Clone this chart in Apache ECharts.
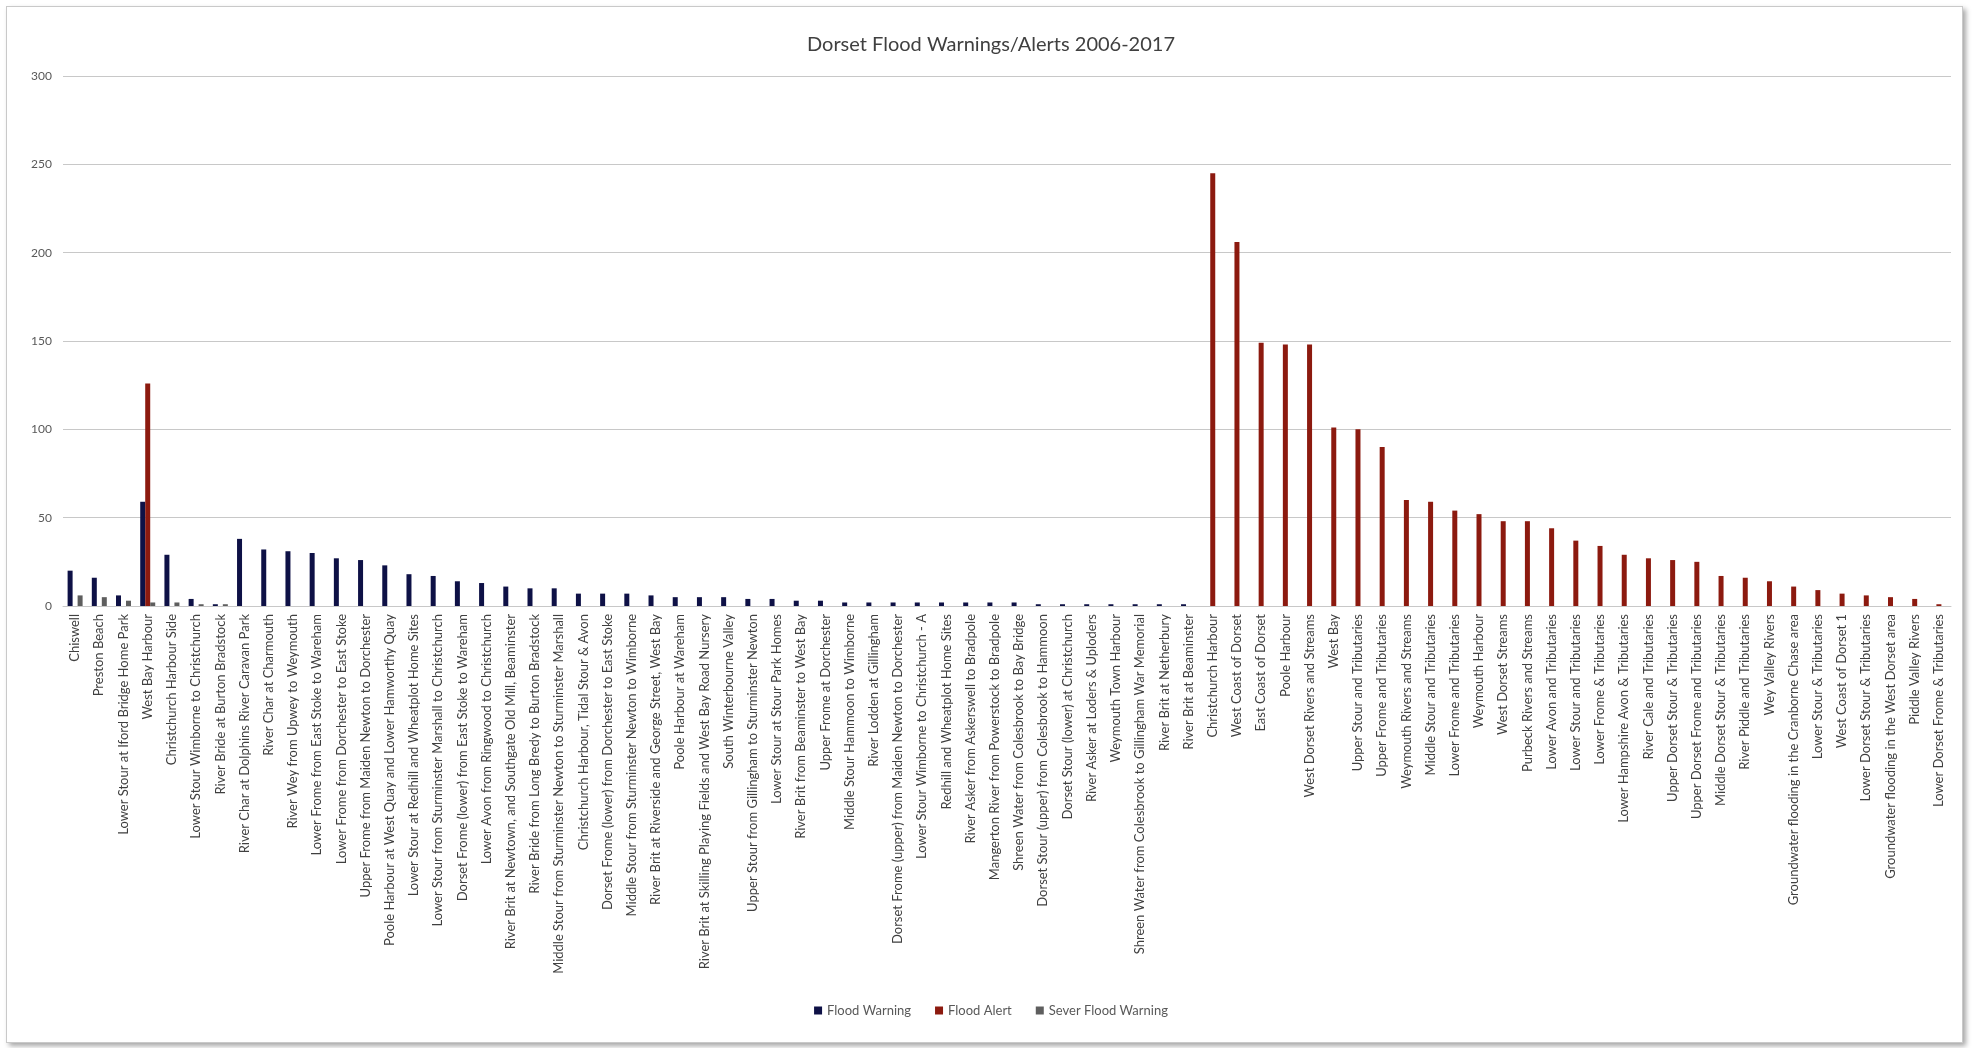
<!DOCTYPE html>
<html>
<head>
<meta charset="utf-8">
<title>Dorset Flood Warnings/Alerts 2006-2017</title>
<script src="https://cdn.jsdelivr.net/npm/echarts@6/dist/echarts.min.js"></script>
<style>
  html, body { margin: 0; padding: 0; background: #ffffff; }
  #frame {
    position: absolute; left: 6px; top: 6px; width: 1955px; height: 1035px;
    border: 1px solid #c9c9c9; background: #ffffff;
    box-shadow: 3px 3px 5px rgba(0,0,0,0.35);
  }
  #chart { position: absolute; left: 0; top: 0; width: 1982px; height: 1048px; }
</style>
</head>
<body>
<div id="frame"></div>
<div id="chart"></div>
<script>
// Warning / alert areas, in the order they appear along the axis
const categories = [
  'Chiswell', 'Preston Beach', 'Lower Stour at Iford Bridge Home Park', 'West Bay Harbour',
  'Christchurch Harbour Side', 'Lower Stour Wimborne to Christchurch', 'River Bride at Burton Bradstock',
  'River Char at Dolphins River Caravan Park', 'River Char at Charmouth', 'River Wey from Upwey to Weymouth',
  'Lower Frome from East Stoke to Wareham', 'Lower Frome from Dorchester to East Stoke',
  'Upper Frome from Maiden Newton to Dorchester', 'Poole Harbour at West Quay and Lower Hamworthy Quay',
  'Lower Stour at Redhill and Wheatplot Home Sites', 'Lower Stour from Sturminster Marshall to Christchurch',
  'Dorset Frome (lower) from East Stoke to Wareham', 'Lower Avon from Ringwood to Christchurch',
  'River Brit at Newtown, and Southgate Old Mill, Beaminster', 'River Bride from Long Bredy to Burton Bradstock',
  'Middle Stour from Sturminster Newton to Sturminster Marshall', 'Christchurch Harbour, Tidal Stour & Avon',
  'Dorset Frome (lower) from Dorchester to East Stoke', 'Middle Stour from Sturminster Newton to Wimborne',
  'River Brit at Riverside and George Street, West Bay', 'Poole Harbour at Wareham',
  'River Brit at Skilling Playing Fields and West Bay Road Nursery', 'South Winterbourne Valley',
  'Upper Stour from Gillingham to Sturminster Newton', 'Lower Stour at Stour Park Homes',
  'River Brit from Beaminster to West Bay', 'Upper Frome at Dorchester', 'Middle Stour Hammoon to Wimborne',
  'River Lodden at Gillingham', 'Dorset Frome (upper) from Maiden Newton to Dorchester',
  'Lower Stour Wimborne to Christchurch - A', 'Redhill and Wheatplot Home Sites',
  'River Asker from Askerswell to Bradpole', 'Mangerton River from Powerstock to Bradpole',
  'Shreen Water from Colesbrook to Bay Bridge', 'Dorset Stour (upper) from Colesbrook to Hammoon',
  'Dorset Stour (lower) at Christchurch', 'River Asker at Loders & Uploders', 'Weymouth Town Harbour',
  'Shreen Water from Colesbrook to Gillingham War Memorial', 'River Brit at Netherbury',
  'River Brit at Beaminster', 'Christchurch Harbour', 'West Coast of Dorset', 'East Coast of Dorset',
  'Poole Harbour', 'West Dorset Rivers and Streams', 'West Bay', 'Upper Stour and Tributaries',
  'Upper Frome and Tributaries', 'Weymouth Rivers and Streams', 'Middle Stour and Tributaries',
  'Lower Frome and Tributaries', 'Weymouth Harbour', 'West Dorset Streams', 'Purbeck Rivers and Streams',
  'Lower Avon and Tributaries', 'Lower Stour and Tributaries', 'Lower Frome & Tributaries',
  'Lower Hampshire Avon & Tributaries', 'River Cale and Tributaries', 'Upper Dorset Stour & Tributaries',
  'Upper Dorset Frome and Tributaries', 'Middle Dorset Stour & Tributaries', 'River Piddle and Tributaries',
  'Wey Valley Rivers', 'Groundwater flooding in the Cranborne Chase area', 'Lower Stour & Tributaries',
  'West Coast of Dorset 1', 'Lower Dorset Stour & Tributaries', 'Groundwater flooding in the West Dorset area',
  'Piddle Valley Rivers', 'Lower Dorset Frome & Tributaries'
];

// Counts per area (null = no record of that type)
const floodWarning = [
  20, 16, 6, 59, 29, 4, 1, 38, 32, 31, 30, 27, 26, 23, 18, 17, 14, 13, 11, 10,
  10, 7, 7, 7, 6, 5, 5, 5, 4, 4, 3, 3, 2, 2, 2, 2, 2, 2, 2, 2,
  1, 1, 1, 1, 1, 1, 1, null, null, null, null, null, null, null, null, null, null, null, null, null,
  null, null, null, null, null, null, null, null, null, null, null, null, null, null, null, null, null, null
];

const floodAlert = [
  null, null, null, 126, null, null, null, null, null, null, null, null, null, null, null, null, null, null, null, null,
  null, null, null, null, null, null, null, null, null, null, null, null, null, null, null, null, null, null, null, null,
  null, null, null, null, null, null, null, 245, 206, 149, 148, 148, 101, 100, 90, 60, 59, 54, 52, 48,
  48, 44, 37, 34, 29, 27, 26, 25, 17, 16, 14, 11, 9, 7, 6, 5, 4, 1
];

const severeFloodWarning = [
  6, 5, 3, 2, 2, 1, 1, null, null, null, null, null, null, null, null, null, null, null, null, null,
  null, null, null, null, null, null, null, null, null, null, null, null, null, null, null, null, null, null, null, null,
  null, null, null, null, null, null, null, null, null, null, null, null, null, null, null, null, null, null, null, null,
  null, null, null, null, null, null, null, null, null, null, null, null, null, null, null, null, null, null
];

const yTicks = { min: 0, max: 300, interval: 50 };

const FONT = 'Lato, "Open Sans", sans-serif';
const chart = echarts.init(document.getElementById('chart'), null, { renderer: 'canvas' });

function barSeries(name, data, color) {
  return {
    name: name,
    type: 'bar',
    data: data,
    barWidth: 5,
    barGap: '0%',
    itemStyle: { color: color },
    emphasis: { disabled: true }
  };
}

chart.setOption({
  animation: false,
  backgroundColor: 'transparent',
  textStyle: { fontFamily: FONT },
  title: {
    text: 'Dorset Flood Warnings/Alerts 2006-2017',
    left: 'center',
    top: 30,
    textStyle: { fontFamily: FONT, fontSize: 20, fontWeight: 'normal', color: '#404040' }
  },
  legend: {
    bottom: 26,
    left: 'center',
    icon: 'rect',
    itemWidth: 8,
    itemHeight: 8,
    itemGap: 24,
    textStyle: { fontFamily: FONT, fontSize: 13, color: '#595959' },
    data: ['Flood Warning', 'Flood Alert', 'Sever Flood Warning']
  },
  grid: { left: 63, right: 31, top: 76, bottom: 442, containLabel: false },
  xAxis: {
    type: 'category',
    data: categories,
    axisTick: { show: false },
    axisLine: { lineStyle: { color: '#c8c8c8', width: 1 } },
    axisLabel: {
      interval: 0,
      rotate: 90,
      margin: 8,
      fontFamily: FONT,
      fontSize: 13,
      color: '#404040'
    }
  },
  yAxis: {
    type: 'value',
    min: yTicks.min,
    max: yTicks.max,
    interval: yTicks.interval,
    axisLine: { show: false },
    axisTick: { show: false },
    axisLabel: { margin: 11, fontFamily: FONT, fontSize: 12, color: '#595959' },
    splitLine: { lineStyle: { color: '#c8c8c8', width: 1 } }
  },
  series: [
    barSeries('Flood Warning', floodWarning, '#0e1146'),
    barSeries('Flood Alert', floodAlert, '#8c1a0f'),
    barSeries('Sever Flood Warning', severeFloodWarning, '#5e5e5e')
  ]
});
</script>
</body>
</html>
